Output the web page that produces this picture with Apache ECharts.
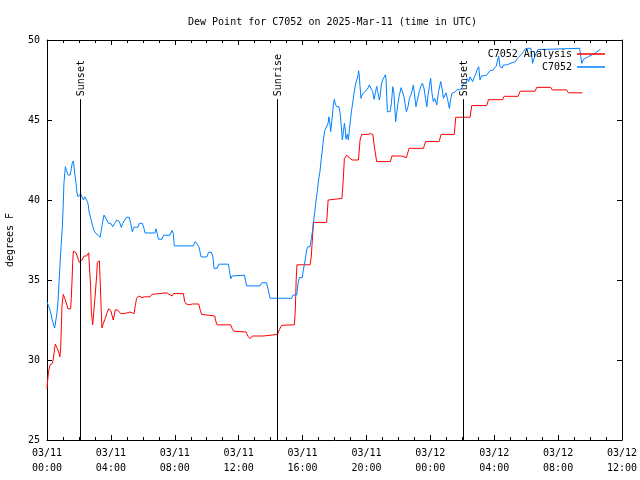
<!DOCTYPE html>
<html><head><meta charset="utf-8">
<script src="https://cdn.jsdelivr.net/npm/echarts@6/dist/echarts.min.js"></script>
<style>html,body{margin:0;padding:0;background:#fff}#c{width:640px;height:480px}</style>
</head><body><div id="c"></div>
<script>
const FONT = 'DejaVu Sans Mono';
const titleText = 'Dew Point for C7052 on 2025-Mar-11 (time in UTC)';
const xTickLabels = ['03/11\n00:00','03/11\n04:00','03/11\n08:00','03/11\n12:00','03/11\n16:00','03/11\n20:00','03/12\n00:00','03/12\n04:00','03/12\n08:00','03/12\n12:00'];
const markerHours = [2.07, 14.40, 26.05];
const markerLabels = ['Sunset', 'Sunrise', 'Sunset'];
const markerTop = 46.3;

const redHours = [0.00,0.02,0.10,0.19,0.35,0.40,0.48,0.52,0.61,0.73,0.81,0.86,0.90,0.94,1.02,1.11,1.23,1.31,1.48,1.52,1.57,1.61,1.65,1.82,1.90,2.02,2.11,2.19,2.32,2.48,2.61,2.65,2.73,2.78,2.86,2.94,3.01,3.11,3.15,3.28,3.32,3.40,3.44,3.53,3.65,3.74,3.86,3.99,4.07,4.15,4.28,4.45,4.61,4.86,4.95,5.20,5.32,5.45,5.53,5.61,5.74,5.95,6.12,6.45,6.57,6.66,6.99,7.08,7.49,7.58,7.83,7.91,8.54,8.62,8.72,8.90,9.00,9.10,9.50,9.60,9.68,9.80,10.50,10.56,10.65,11.50,11.60,11.70,12.46,12.60,12.71,12.85,13.55,13.65,14.44,14.55,14.69,15.49,15.55,15.60,15.65,16.47,16.55,16.60,16.68,17.51,17.60,17.65,18.47,18.55,18.62,18.76,19.10,19.50,19.60,19.70,20.10,20.25,20.40,20.50,20.64,21.50,21.60,22.20,22.30,22.50,22.67,23.57,23.70,24.55,24.67,25.50,25.59,26.49,26.59,27.53,27.64,28.53,28.62,29.50,29.62,30.56,30.66,31.54,31.64,32.54,32.64,33.52];
const redValues = [28.2,28.5,29.3,29.7,29.8,30.1,30.7,31.0,30.8,30.5,30.2,30.8,32.1,33.4,34.1,33.85,33.5,33.2,33.2,33.85,35.0,36.1,36.8,36.7,36.46,36.1,36.0,36.25,36.5,36.5,36.7,36.0,34.6,33.0,32.2,32.2,33.96,35.3,36.1,36.2,35.2,33.0,32.0,32.3,32.6,32.9,33.2,33.1,32.8,32.5,33.15,33.1,32.9,32.9,33.0,33.0,33.1,32.9,33.4,33.85,34.0,33.9,33.95,33.95,34.1,34.15,34.15,34.2,34.2,34.15,34.0,34.15,34.15,33.65,33.5,33.45,33.55,33.5,33.5,33.1,32.85,32.75,32.75,32.45,32.2,32.2,31.95,31.8,31.75,31.46,31.33,31.5,31.5,31.6,31.6,31.9,32.17,32.2,33.2,35.0,35.95,35.95,36.5,37.3,38.6,38.6,40.0,40.1,40.1,41.3,42.6,42.8,42.5,42.5,43.75,44.1,44.1,44.15,44.1,43.3,42.4,42.4,42.75,42.75,42.65,42.65,43.23,43.23,43.65,43.65,44.1,44.1,45.17,45.17,45.9,45.9,46.27,46.27,46.48,46.48,46.8,46.8,47.04,47.04,46.88,46.88,46.7,46.7];

const blueHours = [0.00,0.05,0.20,0.35,0.48,0.54,0.62,0.69,0.75,0.81,0.88,0.96,1.01,1.06,1.15,1.23,1.32,1.45,1.52,1.58,1.65,1.70,1.75,1.82,1.87,1.94,2.03,2.11,2.20,2.28,2.36,2.45,2.53,2.58,2.63,2.74,2.84,2.95,3.05,3.20,3.32,3.40,3.49,3.57,3.65,3.74,3.86,3.99,4.11,4.24,4.36,4.45,4.53,4.65,4.74,4.86,4.99,5.15,5.24,5.34,5.44,5.57,5.70,5.78,5.90,5.97,6.05,6.14,6.76,6.83,6.90,6.98,7.20,7.30,7.70,7.83,7.91,7.97,9.16,9.28,9.40,9.50,9.65,10.00,10.10,10.28,10.38,10.46,10.65,10.77,11.36,11.42,11.50,11.58,11.70,12.36,12.42,12.50,13.34,13.45,13.74,13.85,13.96,15.32,15.40,15.63,15.72,15.80,15.98,16.05,16.16,16.26,16.33,16.47,16.55,16.63,16.68,16.78,16.85,16.93,17.00,17.09,17.16,17.24,17.30,17.39,17.50,17.60,17.65,17.70,17.76,17.80,17.85,17.93,17.99,18.05,18.14,18.20,18.28,18.35,18.43,18.49,18.55,18.62,18.68,18.72,18.80,18.87,18.93,19.01,19.07,19.14,19.22,19.31,19.39,19.47,19.51,19.55,19.60,19.66,19.72,19.81,19.93,20.06,20.18,20.30,20.39,20.48,20.56,20.64,20.72,20.81,20.85,20.93,21.01,21.10,21.19,21.23,21.27,21.31,21.48,21.56,21.65,21.72,21.77,21.83,21.89,21.97,22.06,22.17,22.27,22.35,22.43,22.50,22.60,22.69,22.80,22.94,23.02,23.10,23.20,23.31,23.40,23.50,23.60,23.70,23.78,23.86,23.94,24.02,24.10,24.19,24.27,24.40,24.52,24.65,24.73,24.82,24.90,24.98,25.07,25.15,25.19,25.28,25.36,25.48,25.57,25.69,25.82,25.90,25.98,26.07,26.23,26.32,26.40,26.49,26.57,26.65,26.74,26.86,26.94,27.03,27.11,27.20,27.28,27.53,27.63,27.74,27.91,27.99,28.12,28.20,28.28,28.36,28.49,28.57,28.78,28.90,29.12,29.20,29.33,29.45,29.57,29.70,29.83,29.95,30.11,30.30,30.40,30.50,30.62,30.74,30.83,33.35,33.48,33.60,33.90,34.30,34.65];
const blueValues = [33.65,33.5,33.1,32.4,32.0,31.9,32.9,33.65,34.8,35.9,37.1,38.33,39.5,41.04,42.08,41.83,41.56,41.56,41.95,42.3,42.44,42.0,41.56,41.04,40.5,40.2,40.2,40.4,40.4,40.0,40.2,40.3,39.9,39.7,39.27,38.85,38.44,38.08,37.92,37.8,37.67,38.1,38.65,39.06,39.17,38.75,38.54,38.54,38.33,38.54,38.75,38.85,38.65,38.29,38.54,38.75,38.92,38.92,38.54,38.02,38.3,38.3,38.3,38.54,38.65,38.54,38.3,37.94,37.94,38.2,37.9,37.55,37.55,37.8,37.8,38.1,37.9,37.13,37.13,37.4,37.4,37.1,36.44,36.44,36.7,36.75,36.5,35.73,35.73,35.99,35.99,35.6,35.07,35.25,35.3,35.3,35.0,34.63,34.63,34.83,34.83,34.4,33.86,33.86,34.06,34.06,34.8,35.15,35.15,35.63,36.25,36.88,37.08,37.08,37.6,38.1,38.6,39.38,40.0,40.6,41.25,41.77,42.5,43.1,43.75,44.33,44.33,44.8,45.2,44.9,44.27,44.2,45.1,45.94,46.29,46.0,45.83,45.75,45.83,45.42,44.58,43.75,44.2,44.8,44.3,43.8,44.1,43.75,44.38,45.1,45.6,46.08,46.67,47.19,47.5,47.75,48.08,47.75,47.08,46.35,46.55,46.7,46.7,46.92,47.19,47.17,46.77,46.29,46.7,47.1,46.7,46.25,46.45,47.19,47.5,47.6,47.83,47.5,46.46,45.52,45.52,46.04,47.08,46.7,45.83,44.9,45.4,46.04,46.56,47.02,46.9,46.46,45.94,45.52,45.83,46.35,46.6,47.19,46.5,45.83,46.3,46.77,47.1,47.29,47.0,46.35,45.83,46.6,47.1,47.6,46.7,46.15,46.35,45.94,46.8,47.4,47.0,46.35,46.25,46.7,46.35,45.94,45.73,46.35,46.67,46.56,46.77,46.92,46.88,46.77,47.0,47.29,47.29,47.6,47.4,47.7,47.75,47.4,47.65,47.92,48.17,48.33,47.5,47.75,47.8,47.8,47.9,48.1,48.1,48.23,48.35,48.44,49.0,48.33,48.25,48.44,48.44,48.55,48.58,48.54,48.65,48.85,48.92,49.1,49.27,49.45,49.48,49.48,48.54,48.85,49.17,49.4,49.48,49.48,48.54,48.8,48.96,49.17,49.42];

const zip = (a, b) => a.map((h, i) => [h, b[i]]);
const chart = echarts.init(document.getElementById('c'), null, {renderer: 'canvas'});
const axisTextStyle = {color: '#000', fontFamily: FONT, fontSize: 10};
const xCommon = {type: 'value', min: 0, max: 36, interval: 4,
  axisLine: {show: true, onZero: false, lineStyle: {color: '#000', width: 1}},
  axisTick: {show: true, inside: true, length: 5, lineStyle: {color: '#000'}},
  minorTick: {show: true, splitNumber: 4, length: 3, lineStyle: {color: '#000'}},
  splitLine: {show: false}, minorSplitLine: {show: false}};
const yCommon = {type: 'value', min: 25, max: 50, interval: 5,
  axisLine: {show: true, onZero: false, lineStyle: {color: '#000', width: 1}},
  axisTick: {show: true, inside: true, length: 5, lineStyle: {color: '#000'}},
  splitLine: {show: false}};
chart.setOption({
  animation: false,
  backgroundColor: '#fff',
  title: {text: titleText, left: 183, top: 12, textStyle: {color: '#000', fontFamily: FONT, fontSize: 10, fontWeight: 'normal'}},
  grid: {left: 47, right: 18, top: 40, bottom: 40, containLabel: false, outerBoundsMode: 'none'},
  legend: [
    {data: ['C7052 Analysis'], right: 30, top: 44, orient: 'vertical', align: 'right', icon: 'rect', itemWidth: 28, itemHeight: 1.5, textStyle: axisTextStyle, selectedMode: false},
    {data: ['C7052'], right: 30, top: 57, orient: 'vertical', align: 'right', icon: 'rect', itemWidth: 28, itemHeight: 1.5, textStyle: axisTextStyle, selectedMode: false}
  ],
  xAxis: [
    Object.assign({}, xCommon, {position: 'bottom', axisLabel: {show: true, margin: 6, lineHeight: 15, ...axisTextStyle, formatter: v => xTickLabels[Math.round(v / 4)]}}),
    Object.assign({}, xCommon, {position: 'top', axisLabel: {show: false}})
  ],
  yAxis: [
    Object.assign({}, yCommon, {position: 'left', name: 'degrees F', nameLocation: 'middle', nameGap: 32, nameTextStyle: axisTextStyle, axisLabel: {show: true, margin: 7, ...axisTextStyle}}),
    Object.assign({}, yCommon, {position: 'right', axisLabel: {show: false}})
  ],
  series: [
    {name: 'C7052 Analysis', type: 'line', data: zip(redHours, redValues), symbol: 'none', showSymbol: false, color: '#ff0000', lineStyle: {width: 1, color: '#ff0000'}, xAxisIndex: 0, yAxisIndex: 0, z: 2},
    {name: 'C7052', type: 'line', data: zip(blueHours, blueValues), symbol: 'none', showSymbol: false, color: '#0080ff', lineStyle: {width: 1, color: '#0080ff'}, xAxisIndex: 0, yAxisIndex: 0, z: 3},
    {name: 'markers', type: 'custom', xAxisIndex: 0, yAxisIndex: 0, z: 4,
      data: markerHours.map(h => [h, markerTop]),
      renderItem: function (params, api) {
        const h = api.value(0), top = api.value(1);
        const p0 = api.coord([h, 25]);
        const p1 = api.coord([h, top]);
        const x = Math.round(p0[0]) + 0.5;
        return {type: 'group', children: [
          {type: 'line', shape: {x1: x, y1: p0[1], x2: x, y2: p1[1]}, style: {stroke: '#000', lineWidth: 1}},
          {type: 'text', x: x + 1, y: p1[1] - 3, rotation: Math.PI / 2,
            style: {text: markerLabels[params.dataIndex], fill: '#000', font: '10px "' + FONT + '"', align: 'left', verticalAlign: 'middle'}}
        ]};
      }}
  ]
});
</script></body></html>
